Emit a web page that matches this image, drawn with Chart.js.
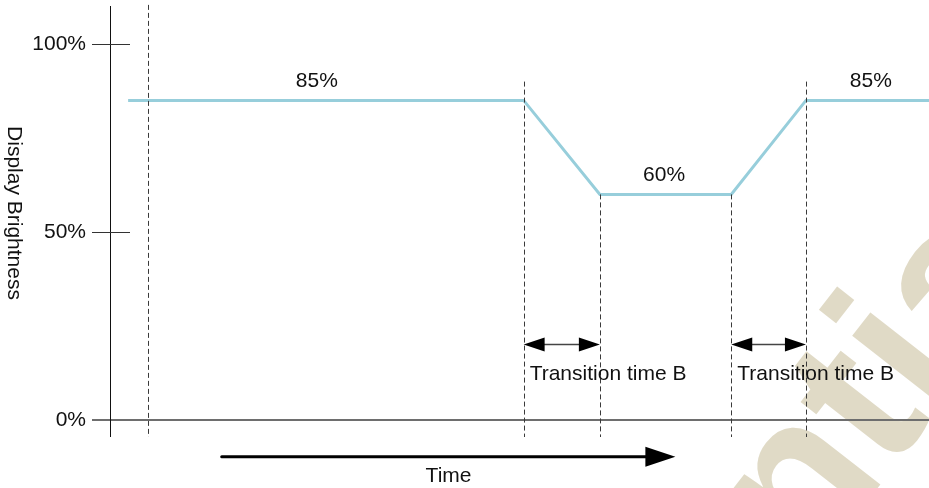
<!DOCTYPE html>
<html>
<head>
<meta charset="utf-8">
<script src="https://cdn.jsdelivr.net/npm/chart.js@4/dist/chart.umd.min.js"></script>
<style>
  html, body { margin: 0; padding: 0; background: #fff; }
  #wrap { width: 929px; height: 488px; }
</style>
</head>
<body>
<div id="wrap"><canvas id="c" width="929" height="488"></canvas></div>
<script>
// brightness profile (time in arbitrary units, brightness in %)
var lineTimes = [2.4, 54.8, 64.9, 82.3, 92.2, 108.5];
var brightness = [85, 85, 60, 60, 85, 85];

// dashed markers and how high each one goes
var markerTimes = [5, 54.8, 64.9, 82.3, 92.2];
var markerTops = [110.4, 90, 60, 60, 90];

var yTicks = [100, 50, 0];
var yTickLabels = ['100%', '50%', '0%'];

var levelLabels = ['85%', '60%', '85%'];
var levelTimes = [27.4, 73.4, 100.8];
var levelValues = [85, 60, 85];

var transitionStarts = [54.8, 82.3];
var transitionEnds = [64.9, 92.2];
var transitionLabel = 'Transition time B';

var timeArrow = [14.8, 74.9];
var FONT = '"Liberation Sans", Arial, sans-serif';
var TEXT = '21px ' + FONT;

function arrowHead(ctx, x, y, dir, len, half) {
    ctx.beginPath();
    ctx.moveTo(x, y);
    ctx.lineTo(x - dir * len, y - half);
    ctx.lineTo(x - dir * len, y + half);
    ctx.closePath();
    ctx.fill();
}

var decor = {
    id: 'decor',
    beforeDraw: function (chart) {
        // watermark behind everything
        var ctx = chart.ctx;
        ctx.save();
        ctx.translate(315, 1208);
        ctx.rotate(-52 * Math.PI / 180);
        ctx.fillStyle = '#e0dac6';
        ctx.font = 'bold 215px ' + FONT;
        ctx.textBaseline = 'alphabetic';
        ctx.fillText('Confidential', 0, 0);
        ctx.restore();
    },
    beforeDatasetsDraw: function (chart) {
        var ctx = chart.ctx, x = chart.scales.x, y = chart.scales.y, a = chart.chartArea;
        var x0 = x.getPixelForValue(0);
        var y0 = y.getPixelForValue(0);
        ctx.save();
        // x axis line
        ctx.strokeStyle = '#6e6e6e';
        ctx.lineWidth = 2;
        ctx.beginPath();
        ctx.moveTo(x0 - 18, y0);
        ctx.lineTo(a.right, y0);
        ctx.stroke();
        // y axis line
        ctx.strokeStyle = '#111';
        ctx.lineWidth = 1;
        ctx.beginPath();
        ctx.moveTo(x0 + 0.5, a.top + 1);
        ctx.lineTo(x0 + 0.5, a.bottom);
        ctx.stroke();
        // tick marks + labels
        ctx.font = TEXT;
        ctx.fillStyle = '#111';
        ctx.textAlign = 'right';
        ctx.textBaseline = 'middle';
        for (var i = 0; i < yTicks.length; i++) {
            var py = Math.round(y.getPixelForValue(yTicks[i])) + 0.5;
            if (yTicks[i] !== 0) {
                ctx.strokeStyle = '#333';
                ctx.beginPath();
                ctx.moveTo(x0 - 18, py);
                ctx.lineTo(x0 + 20, py);
                ctx.stroke();
            }
            ctx.fillText(yTickLabels[i], x0 - 24, py);
        }
        // axis title, reads top to bottom
        ctx.save();
        ctx.translate(14, 213);
        ctx.rotate(Math.PI / 2);
        ctx.textAlign = 'center';
        ctx.fillText('Display Brightness', 0, 0);
        ctx.restore();
        ctx.restore();
    },
    afterDatasetsDraw: function (chart) {
        var ctx = chart.ctx, x = chart.scales.x, y = chart.scales.y, a = chart.chartArea;
        ctx.save();
        // dashed markers
        ctx.strokeStyle = '#3a3a3a';
        ctx.lineWidth = 1;
        ctx.setLineDash([5, 3]);
        for (var i = 0; i < markerTimes.length; i++) {
            var px = Math.round(x.getPixelForValue(markerTimes[i])) + 0.5;
            ctx.beginPath();
            ctx.moveTo(px, y.getPixelForValue(markerTops[i]));
            ctx.lineTo(px, a.bottom);
            ctx.stroke();
        }
        ctx.setLineDash([]);

        // level labels
        ctx.font = TEXT;
        ctx.fillStyle = '#111';
        ctx.textAlign = 'center';
        ctx.textBaseline = 'middle';
        for (var j = 0; j < levelLabels.length; j++) {
            ctx.fillText(levelLabels[j], x.getPixelForValue(levelTimes[j]), y.getPixelForValue(levelValues[j]) - 19);
        }

        // transition arrows
        var ay = Math.round(y.getPixelForValue(20.2)) + 0.5;
        for (var k = 0; k < transitionStarts.length; k++) {
            var xs = x.getPixelForValue(transitionStarts[k]);
            var xe = x.getPixelForValue(transitionEnds[k]);
            ctx.strokeStyle = '#444';
            ctx.lineWidth = 1.5;
            ctx.beginPath();
            ctx.moveTo(xs + 10, ay);
            ctx.lineTo(xe - 10, ay);
            ctx.stroke();
            ctx.fillStyle = '#000';
            arrowHead(ctx, xs, ay, -1, 21, 7);
            arrowHead(ctx, xe, ay, 1, 21, 7);
            ctx.fillStyle = '#111';
            ctx.textAlign = 'left';
            ctx.textBaseline = 'alphabetic';
            ctx.fillText(transitionLabel, xs + 6, y.getPixelForValue(10.6));
        }

        // time arrow
        var ty = y.getPixelForValue(-9.8);
        var t0 = x.getPixelForValue(timeArrow[0]);
        var t1 = x.getPixelForValue(timeArrow[1]);
        ctx.strokeStyle = '#000';
        ctx.lineWidth = 3;
        ctx.lineCap = 'round';
        ctx.beginPath();
        ctx.moveTo(t0, ty);
        ctx.lineTo(t1 - 20, ty);
        ctx.stroke();
        ctx.fillStyle = '#000';
        arrowHead(ctx, t1, ty, 1, 30, 10);
        ctx.fillStyle = '#111';
        ctx.textAlign = 'center';
        ctx.textBaseline = 'alphabetic';
        ctx.fillText('Time', (t0 + t1) / 2, y.getPixelForValue(-16.5));
        ctx.restore();
    }
};

var points = lineTimes.map(function (t, i) { return { x: t, y: brightness[i] }; });

new Chart(document.getElementById('c'), {
    type: 'line',
    data: {
        datasets: [{
            data: points,
            borderColor: '#97cedb',
            borderWidth: 3,
            pointRadius: 0,
            tension: 0,
            fill: false,
            clip: false
        }]
    },
    options: {
        responsive: false,
        animation: false,
        layout: { padding: { left: 110, top: 5, right: 0, bottom: 51 } },
        scales: {
            x: { type: 'linear', min: 0, max: 108.5, display: false },
            y: { type: 'linear', min: -4.521, max: 110.37, display: false }
        },
        plugins: { legend: { display: false }, tooltip: { enabled: false } }
    },
    plugins: [decor]
});
</script>
</body>
</html>
